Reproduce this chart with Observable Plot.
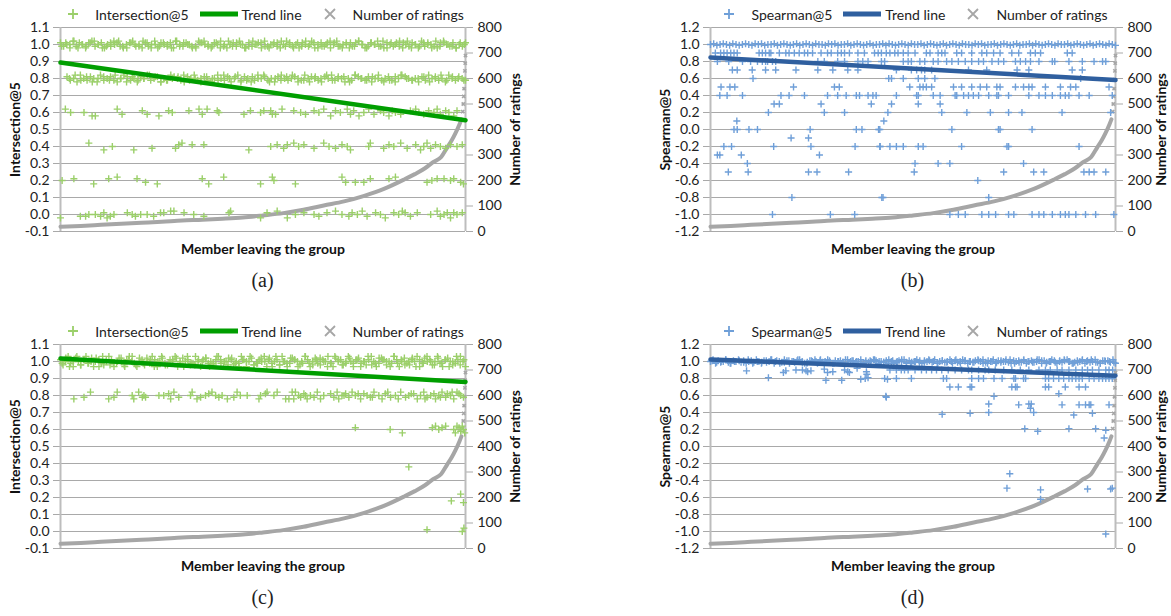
<!DOCTYPE html>
<html><head><meta charset="utf-8">
<script src="https://cdn.jsdelivr.net/npm/d3@7"></script>
<script src="https://cdn.jsdelivr.net/npm/@observablehq/plot@0.6"></script>
<style>
body{margin:0;background:#fff;overflow:hidden;font-family:Lato,sans-serif;color:#222}
#wrap{position:relative;width:1171px;height:616px;overflow:hidden}
.panel{position:absolute;width:525px;height:300px}
.panel svg.chart{position:absolute;left:0;top:0}
.legend{position:absolute;left:60px;width:405px;top:4px;height:20px;display:flex;justify-content:center;align-items:center;font-size:14px;white-space:nowrap}
.legend svg{display:block}
.cap{position:absolute;left:60px;width:405px;text-align:center;top:268px;line-height:24px;font-family:"Liberation Serif",serif;font-size:20px}
</style></head><body><div id="wrap"></div><script>
// ---- shared: number of ratings per member (x = member position, % of members) ----
const ratingPos = [0,5,10,15,20,25,30,35,40,45,50,55,60,65,70,75,80,85,87.5,90,92,94,95.5,96.5,97.5,98.5,99];
const ratingVal = [19,22,26,30,34,38,43,46,50,55,63,72,85,102,118,140,168,205,225,248,272,292,330,355,385,420,440];
const ratingTailPos = [99.3,99.45,99.55,99.65,99.75,99.85,99.93,100];
const ratingTailVal = [470,500,530,560,595,630,660,690];

const ticksInter = [-0.1,0,0.1,0.2,0.3,0.4,0.5,0.6,0.7,0.8,0.9,1.0,1.1];
const ticksSpear = [-1.2,-1.0,-0.8,-0.6,-0.4,-0.2,0,0.2,0.4,0.6,0.8,1.0,1.2];
const ticksRatings = [0,100,200,300,400,500,600,700,800];
const trendX = [0,100];

// ---- (a) Intersection@5 ----
const aBand10 = [101,99,100,98,102,99,101,100,98,101,102,99,100,101,98,100,99,102,101,99,98,100,101,102,99,100,98,101,99,100,102,98,101,100,99,101,98,102,100,99,101,100,98,99,102,101,100,99,98,101,100,102,99,98,100,101,99,102,100,98,101,99,100,101,98,102,99,100,101,99,98,100,102,101,99,100,98,101,100,99,102,98,100,101,99,101,98,100,102,99,100,101,98,99,101,102,100,98,99,101,100,102,99,98,101,100,99,101,102,98,100,99,101,100,98,102,99,101,100,99,98,101,102,100,99,101,98,100,99,101];
const aBand10b = [99,101,100,102,98,100,99,101,102,100,98,99,101,100,102,99,98,101,100,99,102,101,98,100,99,101,100,98,102,99,101,100,99,98,101,102,100,99,101,98,100,102,99,101,100,98,99,102,100,101,99,98,100,101,102,99,100,98,101,99,102,100,101,98,99,100,102,101,99,98,100,101,99,102,100,98,101,100,99,102,98,101,100,99,101,102,98,100,99,101,100,98,102,99,101,100,99,98,101,100];
const aBand08 = [81,79,80,78,82,80,79,81,80,78,82,79,80,81,79,78,80,82,81,79,80,78,81,80,82,79,80,81,78,80,79,82,81,80,79,78,81,80,82,79,80,81,79,78,80,82,80,79,81,78,80,82,79,81,80,78,79,82,80,81,79,80,78,81,82,80,79,80,81,78,79,82,80,81,80,79,78,81,80,82,79,81,80,78,80,79,82,81,80,79,81,78,80,82,79,80,81,79,78,80,82,81,80,79,80,78,81,79,82,80,81,79,80,78,82,80,79,81,80,79];
const aBand08b = [80,82,79,81,78,80,81,79,82,80,78,81,79,80,82,81,78,79,80,81,82,79,80,78,81,80,79,82,80,81,78,79,81,80,82,78,80,79,81,82,80,79,78,81,80,82,79,80,81,78,82,80,79,81,80,78,79,81,82,80,79,80,81,78,80,82,79,81,80,79];
const a60X = [1.2,2.5,5.8,7.8,8.6,14,15.2,20.2,21.4,24.3,26.7,27.6,31.7,34.2,35,36.2,38.7,39.1,45.3,46.9,49.4,50.2,51.9,52.3,53.1,54.7,57.6,59.3,60.5,62.6,63.8,65,66.7,67.9,69.1,70.8,71.6,72.4,73.7,74.9,76.1,77.4,79,79.8,81.1,81.9,82.7,84,86.4,87.7,88.5,89.7,90.9,92.2,93,93.8,95.1,95.9,97.1,97.9];
const a60Y = [.62,.60,.60,.58,.58,.62,.59,.61,.59,.58,.61,.60,.61,.62,.59,.62,.61,.60,.59,.61,.60,.61,.61,.59,.59,.62,.61,.60,.59,.61,.60,.62,.58,.61,.60,.62,.59,.61,.58,.60,.62,.59,.61,.60,.58,.61,.60,.59,.61,.62,.60,.59,.61,.60,.62,.59,.61,.60,.58,.61];
const a40X = [7,10.7,12.8,18.1,22.6,28.4,29.2,30,32.5,35.4,46.5,51.9,53.5,55.1,56,57.6,58.8,60.1,62.6,65,66.3,67.9,69.5,70.8,71.6,76.1,76.5,79.8,81.1,82.3,84,85.6,87.7,88.9,89.7,90.5,91.4,92.6,93.8,95.1,96.3,97.9,99.2];
const a40Y = [.42,.38,.40,.38,.39,.39,.41,.42,.41,.41,.38,.40,.41,.39,.41,.42,.40,.41,.39,.42,.40,.39,.41,.40,.38,.40,.42,.39,.41,.40,.42,.39,.41,.38,.40,.42,.39,.41,.40,.39,.41,.40,.41];
const a20X = [0.4,3.3,8.2,11.9,14,18.9,21,23.9,35,36.6,40.3,49.4,52.3,52.7,58,69.5,70.4,72.8,74.9,76.5,81.1,82.7,90.5,91.7,93,94.7,96.3,97.1,98.8,99.5];
const a20Y = [.20,.21,.18,.21,.22,.21,.19,.18,.21,.18,.22,.18,.22,.20,.18,.22,.19,.19,.19,.21,.21,.22,.19,.20,.21,.21,.20,.21,.19,.18];
const a00X = [0,4.9,6.2,7,8.6,9.9,10.7,11.5,12.3,13.2,16.5,17.7,18.5,19.8,21.4,23,24.7,25.5,27.2,28,30.5,32.9,35.4,41.6,42,49.4,51,53.5,56,58,60.1,62.6,63.8,65.8,67.9,69.5,71.2,72,73.3,74.5,75.7,77.8,79,80.2,82.3,83.5,84.4,85.1,86.4,88.1,91.4,93,93.8,94.7,95.5,96.3,97.1,97.9,99.2];
const a00Y = [-.02,-.01,-.01,0,0,-.01,.01,-.02,-.01,0,.01,0,-.01,0,0,-.01,.01,.01,.02,.02,.01,0,-.01,.01,.02,-.02,.01,.02,-.02,0,.01,0,-.01,.01,.02,0,-.01,.01,0,.02,-.01,.01,0,-.02,.01,0,.02,.01,-.01,.01,0,.02,-.01,0,.01,-.02,.01,0,.01];
const aTrend = [0.894, 0.555];

// ---- (b) Spearman@5 ----
const bBand10 = [100,101,99,100,101,100,99,101,100,99,100,101,100,99,101,100,101,99,100,100,101,99,100,101,100,99,100,101,99,100,101,100,99,101,100,100,99,101,100,101,99,100,100,101,99,100,101,100,99,100,101,99,100,100,101,99,101,100,99,100,101,100,99,101,100,100,101,99,100,101,100,99,100,101,99,100,101,100,99,101,100,100,99,101,100,101,99,100,100,101,99,100,101,100,99,100,101,99,100,100,101,99,101,100,99,100,101,100,99,101,100,100,101,99,100,101,100,99,100,101,99,100,101,100,99,101,100,99];
const bLevels = [0.9,0.8,0.7,0.6,0.5,0.4,0.3,0.2,0.1,0,-0.1,-0.2,-0.3,-0.4,-0.5,-0.6,-0.8,-1];
const bPos = [
 [1.2,2.5,3.3,4.1,5,5.8,6.6,12,12.8,13.6,14.5,14.9,17,18.6,19.4,20.7,21.9,23.2,24,25.2,27.3,28.9,29.8,31.4,32.3,33.1,34.3,36.4,38,40.5,41.4,42.2,43.4,44.3,45.5,46.3,47.6,48.8,50.5,53.3,54.2,56.2,57.1,57.9,60.8,62,64.5,67,68.2,69.9,71.5,74.4,76.1,79,80.2,81.5,88.1,89.3],
 [1.7,4.5,7.9,9.9,11.6,12.8,13.6,14.1,15.3,16.1,26.5,28.1,31.4,33.1,36.4,37.6,38.9,42.2,43,47.6,48.8,49.6,51.7,52.9,55,56.2,58.3,59.6,61.2,62.9,64.5,66.2,67.4,69.5,71.1,72.4,75.3,76.5,77.8,79,81.1,84.4,85,88.5,91.8,94.7,96.8,97.6],
 [5.4,6.6,10.3,13.6,16.1,21.1,26.5,30.2,33.9,36.4,45.9,49.6,50.9,52.1,52.9,54.6,63.7,68.2,75.7,78.6,89.3,91.8],
 [10.5,44,44.7,47.6,51.3,52.9,55.4,91.4],
 [2.6,4.8,6,20.5,30.6,31.8,49.2,51.7,52.5,53.3,54.6,60,62,64.5,66.6,68.2,70.7,71.5,75.3,77.3,78.6,79.4,82.7,86.4,88.9,90.2,98.4],
 [2.3,4.1,7.9,17.4,19.4,23.2,28.9,31.4,33.5,36,36.8,38.9,40.1,40.9,45.9,50.9,51.3,55,56.7,60.4,60.8,62.5,63.7,64.9,66.2,68.7,70.7,71.1,73.6,78.6,81.1,82.7,84.4,86.4,87.6,88.5,91,93.5,99.2],
 [15.7,17,27.3,39.7,44.7,51.3,56.7],
 [14.3,28.1,33.1,43.8,57.1,63.3,69.1,73.6,76.9,86.8,98.8],
 [6.5,42.8],
 [5.8,6.6,9.5,11.6,24.6,36,37.4,41.5,41.8,59.6,71.1,71.5,79.4],
 [19.9,24.2],
 [3.3,5.2,15.6,24.8,35.7,41.8,41.9,44.3,45.9,47.6,51.3,52.5,62,73.2,73.6,91],
 [1.7,2.3,7.6,26.9],
 [9.1,50.5,56.2,59.1,77.3],
 [4.4,9.3,24.2,26.3,34.1,50.3,72.4,79.8,82.3,92.2,93.5,94.7,97.6],
 [66],
 [20.1,42.3,42.6,68.7],
 [15.3,29.6,35.6,59.1,61.2,62.9,67,68.7,70.4,73.6,74.9,79.4,81.1,82.3,84.4,86.4,87.6,88.5,90.2,92.6,95.1,99.6]
];
const bTrend = [0.848, 0.582];

// ---- (c) Intersection@5 ----
const cBand10 = [101,98,100,103,99,97,102,100,98,101,103,99,100,97,102,101,99,98,100,103,101,97,99,102,100,98,101,103,100,99,97,102,101,98,100,99,103,101,97,100,102,99,98,101,100,103,97,99,102,100,101,98,99,103,100,97,101,102,99,100,98,101,103,99,97,100,102,101,98,100,99,103,101,97,100,102,98,99,101,100,103,97,102,99,100,101,98,103,100,97,99,102,101,100,98,99,103,101,97,100,102,99,98,101,100,103,99,97,102,100,101,98,99,103,100,97,101,102,99,100,98,101,103,100,97,99,102,101,98,100,99,103,101,97,100,102,99,98,101,100,103,97,99,102,100,101,98,100,103,99,97,101,102,100,98,99,101,103,100,97];
const cBand10b = [99,102,97,100,103,98,101,99,102,100,97,103,101,98,99,100,102,97,101,103,98,100,99,102,101,97,100,103,98,99,101,102,100,97,103,99,98,101,100,102,97,99,103,101,100,98,102,99,97,101,100,103,98,99,102,100,101,97,103,98,100,99,102,101,97,100,103,99,98,101,102,100,97,99,103,101,98,100,102,99,101,97,100,103,98,99,102,101,100,97,103,99,101,98,100,102,97,101,99,103,100,98,102,99,101,97,100,103,98,101];
const c80X = [3.3,5.8,7.4,11.9,13.2,14,17.7,18.1,19.3,20.2,20.6,21,24.3,25.5,26.7,27.2,28,29.2,32.1,32.5,33.7,34.6,35.8,36.6,37.4,38.3,39.1,39.9,41.2,42.8,43.6,44.4,46.1,49,49.4,50.6,51,52.7,53.5,55.6,56.4,57.2,57.6,58,58.8,59.3,60.1,60.5,60.9,61.7,62.6,63.4,64.2,65,66.7,67.5,68.3,68.7,69.5,70,70.4,71.2,72,72.8,73.5,74.1,74.9,75.7,76.5,77,77.4,78.6,79.4,80.2,80.8,81.5,82.7,83.4,84,85.2,86,86.6,87.2,88.1,88.9,89.7,90,90.5,91.4,92.2,92.6,93.4,93.8,94.2,95.1,95.5,96.3,96.7,97.1,97.9,98.4,98.8,99.5];
const c80Y = [.78,.79,.82,.78,.79,.82,.80,.78,.82,.79,.80,.79,.80,.80,.81,.78,.82,.79,.80,.82,.78,.79,.80,.81,.82,.80,.79,.80,.78,.79,.82,.80,.80,.78,.80,.81,.82,.80,.82,.78,.78,.82,.78,.82,.80,.79,.81,.80,.78,.80,.79,.82,.78,.80,.81,.79,.82,.78,.80,.80,.81,.79,.82,.80,.81,.78,.81,.80,.79,.79,.82,.80,.78,.81,.82,.79,.80,.78,.82,.79,.80,.81,.81,.78,.80,.82,.78,.79,.80,.81,.78,.80,.79,.82,.79,.81,.80,.82,.78,.82,.81,.80,.79];
const cLowX = [72.8,81.4,84.4,91.8,92.6,93.4,94.2,95.1,97.1,97.5,97.9,98.4,98.8,99.2,99.5,99.8,86,96.5,98.8,99.5,90.5,99.2,99.6];
const cLowY = [.61,.60,.58,.61,.62,.60,.61,.62,.60,.58,.62,.61,.59,.62,.60,.58,.38,.18,.22,.17,.01,0,.02];
const cTrend = [1.018, 0.88];

// ---- (d) Spearman@5 ----
const dBand10 = [100,102,98,101,99,100,102,99,98,101,100,102,99,101,98,100,101,99,102,100,98,101,99,100,102,98,101,100,99,102,101,98,100,99,101,102,100,98,99,101,100,102,98,101,99,100,102,99,98,101,100,101,99,102,98,100,101,99,100,102,98,101,99,100,102,101,98,100,99,101,102,100,98,99,101,100,102,98,101,99,100,102,99,98,101,100,101,99,102,98,100,101,99,100,102,98,101,99,100,102,101,98,100,99,101,102,100,98,99,101,100,102,98,101,99,100,102,99,98,101,100,101,99,102,98,100,101,99,100,102,98,101,99,100,102,101,98,100,99,101,102,100,98,99,101,100,102,98,101,99,100,102,99,98,101,100,101,99,102,98];
const dBand10b = [101,99,100,102,98,100,101,99,102,98,100,99,101,102,100,98,99,101,100,102,99,98,101,100,102,99,101,98,100,99,102,101,100,98,99,101,102,100,99,98,101,100,102,99,98,100,101,99,102,100,98,101,99,100,102,98,101,100,99,101,102,98,100,99,101,100,102,98,99,101,100,99,102,101,98,100,99,101,102,100,98,99,101,100,102,99,98,101,100,99];
const dLevels = [0.9,0.8,0.7];
const dPos = [
 [45.9,47.1,47.9,48.8,50.5,52.1,53.3,54.6,55.8,57.1,58.7,60.4,62,63.7,64.5,66.2,67.8,68.7,70.3,72.4,74.4,76.5,78.6,81.1,82.7,83.9,85.6,86.8,88.5,90.2,91.8,93.1,94.3,95.9,97.6,98.4,99.3],
 [45.9,49.6,57.5,58.3,64.5,66.2,67.4,70,72,74.9,75.3,77.3,77.8,82.7,83.5,84.7,86,87.2,88.5,89.3,90.2,91,91.8,93.5,94.7,95.9,96.8,97.6,98.4,99.2],
 [59.1,61.2,64.1,64.5,74.4,75.3,75.7,82.7,83.5,87.6,91,92.6]
];
const dOtherX = [8.9,14.3,18,18.6,21.1,22.7,23.6,24,24.8,28.1,28.9,30.2,28.5,32.4,33.1,33.9,34.3,36.2,37.1,38.2,38.9,38.5,38.6,43,43.7,43.3,44.3,43.4,57.2,64.1,68.7,68.7,70,73.2,73.9,76.1,77.6,78.6,79,79.8,79.2,80.8,81.5,81.5,86,86.8,88.5,89.7,91,92.6,93.1,93.5,93.9,94.3,95.1,97.2,97.6,97.6,98.4,98.8,99.2];
const dOtherY = [.89,.81,.87,.89,.9,.9,.89,.88,.89,.91,.87,.88,.78,.78,.9,.88,.87,.92,.79,.8,.81,.88,.85,.8,.79,.59,.9,.58,.38,.39,.5,.4,.59,-.49,-.32,.49,.21,.5,.45,.4,.5,.18,-.51,-.62,.62,.49,.21,.37,.49,.49,-.5,.49,.49,.39,.21,.1,.19,-1.03,.49,-.5,-.49];
const dTrend = [1.024, 0.832];

// ---- colours ----
const GREEN_PT = "#9bcf6a", GREEN_LN = "#009e00";
const BLUE_PT = "#6f9fd8", BLUE_LN = "#2f5f9f";
const GRAY = "#a6a6a6";

// ---- helpers to build tables ----
const pairs = (xs, ys) => xs.map((x, i) => ({x, y: ys[i]})).filter(d => d.y != null);
const band = (vals, x0, x1) => vals.map((v, i) => ({x: x0 + i * (x1 - x0) / (vals.length - 1), y: v / 100}));
const levels = (lv, pos) => lv.flatMap((v, k) => pos[k].map(x => ({x, y: v})));

function makePlot({lo, hi, ticks, yLabel, ptColor, lnColor, points, trend, rightDx}) {
  const toY = r => lo + r / 800 * (hi - lo);
  const fromY = y => Math.round((y - lo) / (hi - lo) * 800);
  const fmt = d => (Math.abs(d) < 1e-9 ? 0 : d).toFixed(1);
  const curve = ratingPos.map((x, i) => ({x, y: toY(ratingVal[i])}));
  const tail = ratingTailPos.map((x, i) => ({x, y: toY(ratingTailVal[i])}));
  const trendData = trendX.map((x, i) => ({x, y: trend[i]}));
  const svg = Plot.plot({
    width: 525, height: 261,
    marginLeft: 60, marginRight: 60, marginTop: 27, marginBottom: 30,
    x: {domain: [0, 100], axis: null},
    y: {domain: [lo, hi], axis: null},
    style: {fontFamily: "Lato, sans-serif", fontSize: "14px", color: "#222", background: "white", overflow: "visible"},
    marks: [
      Plot.gridY({ticks, stroke: "#a9a9a9", strokeOpacity: 1, strokeWidth: 1.1}),
      Plot.axisY({ticks, anchor: "left", tickSize: 7, tickPadding: 4, tickFormat: fmt, stroke: "#a9a9a9", fill: "#222", fontSize: 14, label: null}),
      Plot.axisY({ticks: ticksRatings.map(toY), anchor: "right", tickSize: 7, tickPadding: 5, tickFormat: fromY, stroke: "#a9a9a9", fill: "#222", fontSize: 14, label: null}),
      Plot.ruleX([0, 100], {stroke: "#bdbdbd", strokeWidth: 2}),
      Plot.line(curve, {x: "x", y: "y", stroke: GRAY, strokeWidth: 4, curve: "monotone-x"}),
      Plot.dot(tail, {x: "x", y: "y", symbol: "times", r: 1.6, stroke: GRAY, strokeWidth: 1.6}),
      Plot.dot(points, {x: "x", y: "y", symbol: "plus", r: 2.4, stroke: ptColor, strokeWidth: 1.4}),
      Plot.line(trendData, {x: "x", y: "y", stroke: lnColor, strokeWidth: 4.5}),
      Plot.text([yLabel], {text: d => d, frameAnchor: "left", textAnchor: "middle", lineAnchor: "middle", rotate: -90, dx: -45, fontWeight: "bold", fontSize: 14, fill: "#111"}),
      Plot.text(["Number of ratings"], {text: d => d, frameAnchor: "right", textAnchor: "middle", lineAnchor: "middle", rotate: -90, dx: rightDx, fontWeight: "bold", fontSize: 14, fill: "#111"}),
      Plot.text(["Member leaving the group"], {text: d => d, frameAnchor: "bottom", textAnchor: "middle", lineAnchor: "middle", dy: 18, fontWeight: "bold", fontSize: 14, fill: "#111"})
    ]
  });
  svg.classList.add("chart");
  return svg;
}

function legendHTML(label, ptColor, lnColor) {
  return `<svg width="24" height="20"><path d="M7,10H17M12,5V15" stroke="${ptColor}" stroke-width="1.8"/></svg>` +
    `<span style="margin-left:10px">${label}</span>` +
    `<svg width="38" height="20" style="margin-left:11px"><line x1="0" x2="38" y1="10" y2="10" stroke="${lnColor}" stroke-width="5"/></svg>` +
    `<span style="margin-left:4px">Trend line</span>` +
    `<svg width="24" height="20" style="margin-left:16px"><path d="M7,5L17,15M17,5L7,15" stroke="${GRAY}" stroke-width="1.8"/></svg>` +
    `<span style="margin-left:11px">Number of ratings</span>`;
}

const panels = [
  {left: 0, top: 0, cap: "(a)", lo: -0.1, hi: 1.1, ticks: ticksInter, yLabel: "Intersection@5", ptColor: GREEN_PT, lnColor: GREEN_LN, trend: aTrend, rightDx: 50,
   points: [...band(aBand10, 0, 100), ...band(aBand10b, 0.3, 99.7), ...band(aBand08, 1.6, 100), ...band(aBand08b, 2.2, 99.6), ...pairs(a60X, a60Y), ...pairs(a40X, a40Y), ...pairs(a20X, a20Y), ...pairs(a00X, a00Y)]},
  {left: 650, top: 0, cap: "(b)", lo: -1.2, hi: 1.2, ticks: ticksSpear, yLabel: "Spearman@5", ptColor: BLUE_PT, lnColor: BLUE_LN, trend: bTrend, rightDx: 46,
   points: [...band(bBand10, 0, 100), ...levels(bLevels, bPos)]},
  {left: 0, top: 317, cap: "(c)", lo: -0.1, hi: 1.1, ticks: ticksInter, yLabel: "Intersection@5", ptColor: GREEN_PT, lnColor: GREEN_LN, trend: cTrend, rightDx: 50,
   points: [...band(cBand10, 0, 100), ...band(cBand10b, 0.4, 99.6), ...pairs(c80X, c80Y), ...pairs(cLowX, cLowY)]},
  {left: 650, top: 317, cap: "(d)", lo: -1.2, hi: 1.2, ticks: ticksSpear, yLabel: "Spearman@5", ptColor: BLUE_PT, lnColor: BLUE_LN, trend: dTrend, rightDx: 46,
   points: [...band(dBand10, 0, 100), ...band(dBand10b, 0.4, 99.6), ...levels(dLevels, dPos), ...pairs(dOtherX, dOtherY)]}
];

const wrap = document.getElementById("wrap");
for (const p of panels) {
  const div = document.createElement("div");
  div.className = "panel";
  div.style.left = p.left + "px";
  div.style.top = p.top + "px";
  div.appendChild(makePlot(p));
  const lg = document.createElement("div");
  lg.className = "legend";
  lg.innerHTML = legendHTML(p.yLabel, p.ptColor, p.lnColor);
  div.appendChild(lg);
  const cap = document.createElement("div");
  cap.className = "cap";
  cap.textContent = p.cap;
  div.appendChild(cap);
  wrap.appendChild(div);
}
</script></body></html>
